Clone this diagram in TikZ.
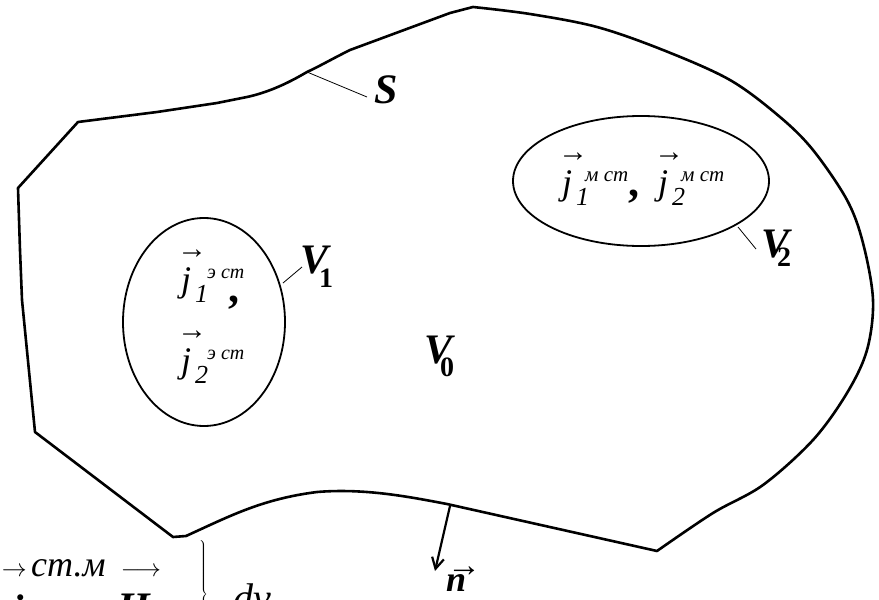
\documentclass[tikz,border=0pt]{standalone}
\usepackage{fontspec}
\setmainfont{Liberation Serif}
\usetikzlibrary{arrows.meta}
\newcommand\fs[1]{\fontsize{#1}{#1}\selectfont}
% #1 subscript, #2 superscript, #3 kern before superscript, #4 superscript size
\newcommand\jterm[4]{%
  \makebox[0pt][l]{\raisebox{33pt}{\kern-4pt\fs{30}→}}%
  {\fs{36}\itshape j}%
  \makebox[0pt][l]{\raisebox{-11pt}{\kern4pt\fs{26}\itshape #1}}%
  \kern#3\raisebox{13pt}{\fs{#4}\itshape #2}}
\tikzset{
  outline/.style={line width=2.6pt, line join=round},
  region/.style={line width=1.8pt},
  leader/.style={line width=0.8pt},
  txt/.style={inner sep=0pt, anchor=base west},
}
\begin{document}
\begin{tikzpicture}[x=1pt,y=-1pt]
\useasboundingbox (0,0) rectangle (879,600);
\clip (0,0) rectangle (879,600);
% outer surface S
\draw[outline] (78,122) -- (18,188) -- (20,250) -- (22,300) -- (35,432) -- (173,537) -- (186,536)
  .. controls (230,516) and (262,499) .. (317,492)
  .. controls (365,488) and (410,497) .. (447,504) -- (657,551)
  -- plot[smooth, tension=0.55] coordinates {(657,551) (713,513) (763,485) (813,440) (847,393) (867,350) (873,300) (863,243) (847,200) (813,150) (780,117) (730,80) (663,50) (597,27) (530,14) (473,7)}
  -- (450,13) -- (350,50) .. controls (330,60) and (320,66) .. (307,72)
  .. controls (290,82) and (270,92) .. (247,97) -- (217,103) -- (157,112) -- cycle;
% V1 and V2
\draw[region] (204,322) ellipse [x radius=81, y radius=104];
\draw[region] (641,181) ellipse [x radius=128, y radius=65];
% labels
\node[txt] (S) at (374,103) {\fs{42}\bfseries\itshape S};
\coordinate (s1) at (307,72); \coordinate (s2) at (367,97);
\draw[leader] (s1) -- (s2);
\node[txt] (V1) at (300,273) {\fs{42}\bfseries\itshape V\kern-9pt\raisebox{-14pt}{\fs{28}\upshape\bfseries 1}};
\coordinate (v1a) at (283,283); \coordinate (v1b) at (302,267);
\draw[leader] (v1a) -- (v1b);
\node[txt] (V2) at (761,257) {\fs{42}\bfseries\itshape V\kern-12pt\raisebox{-9pt}{\fs{28}\upshape\bfseries 2}};
\coordinate (v2a) at (738,227); \coordinate (v2b) at (756,249);
\draw[leader] (v2a) -- (v2b);
\node[txt] (V0) at (424,363) {\fs{42}\bfseries\itshape V\kern-12pt\raisebox{-13pt}{\fs{28}\upshape\bfseries 0}};
% currents in V1
\node[txt] (j11) at (181,291) {\jterm{1}{э ст}{16pt}{20}};
\node[txt] (c1) at (228,302) {\fs{44}\bfseries ,};
\node[txt] (j12) at (181,372) {\jterm{2}{э ст}{16pt}{20}};
% currents in V2
\node[txt] (j21) at (562,194) {\jterm{1}{м ст}{13pt}{21}};
\node[txt] (c2) at (628,196) {\fs{44}\bfseries ,};
\node[txt] (j22) at (658,194) {\jterm{2}{м ст}{13pt}{21}};
% normal
\coordinate (nA) at (450,506); \coordinate (nB) at (435,571);
\draw[line width=2.2pt, -{Straight Barb[length=11pt,width=12pt]}] (nA) -- (nB);
\node[txt] (n) at (446,591) {\makebox[0pt][l]{\raisebox{15pt}{\kern1pt\fs{34}\bfseries →}}\fs{36}\bfseries\itshape n};
% clipped formula at bottom
\node[inner sep=0pt, anchor=east] (ar1) at (27,572) {\fs{26}$\rightarrow$};
\node[txt] (jb) at (12,622) {\fs{40}\bfseries\itshape j};
\node[txt] (sup) at (31,576) {\fs{36}\itshape ст.м};
\node[inner sep=0pt] (ar2) at (141,572) {\fs{34}$\longrightarrow$};
\node[txt] (Hb) at (117,621) {\fs{42}\bfseries\itshape H};
\node[inner sep=0pt] (br) at (203,594) {\fs{14}$\left.\vrule height 50pt depth 50pt width 0pt\right\}$};
\node[txt] (dv) at (233,611) {\fs{40}\itshape dv};
\end{tikzpicture}
\end{document}
